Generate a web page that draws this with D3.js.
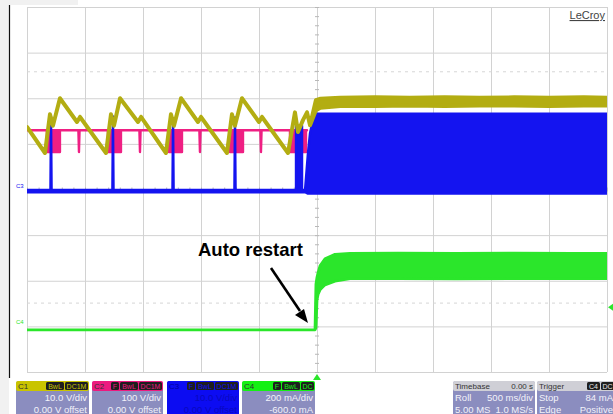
<!DOCTYPE html>
<html><head><meta charset="utf-8">
<script src="https://cdn.jsdelivr.net/npm/d3@7/dist/d3.min.js"></script>
<style>
html,body{margin:0;padding:0;background:#fff;}
svg{display:block;font-family:"Liberation Sans",Arial,Helvetica,sans-serif;}
</style></head><body>
<svg id="c" width="613" height="414"></svg>
<script>
// ---------- DATA (time in ms, trigger at 0) ----------
// C1: 10 V/div, 0 V offset  (values in V; min/max envelope)
const c1Time = [-2500,-2345,-2302,-2276,-2216,-2069,-2043,
  -1819,-1776,-1750,-1698,-1543,-1517,
  -1302,-1259,-1233,-1172,-1026,-1000,
  -776,-733,-707,-647,-500,-474,
  -250,-190,-164,-121,-86,-60,-9,
  30,200,500,800,1100,1400,1700,2000,2300,2500];
const c1Min = [13.7,8.0,16.5,14.0,20.0,14.8,15.9,
  8.0,16.5,14.0,20.0,14.8,15.9,
  8.0,16.5,14.0,20.0,14.8,15.9,
  8.0,16.5,14.0,20.0,14.8,15.9,
  8.0,16.9,12.6,15.2,16.9,14.1,17.4,
  17.9,18.3,18.3,18.4,18.3,18.4,18.4,18.3,18.4,18.4];
const c1Max = [13.7,8.0,16.5,14.0,20.0,14.8,15.9,
  8.0,16.5,14.0,20.0,14.8,15.9,
  8.0,16.5,14.0,20.0,14.8,15.9,
  8.0,16.5,14.0,20.0,14.8,15.9,
  8.0,16.9,12.6,15.2,16.9,14.1,19.6,
  19.9,20.1,20.2,20.1,20.2,20.1,20.2,20.1,20.2,20.1];

// C2: 100 V/div, 0 V offset (values in V)
const c2Time = [-2500,-2328,-2328,-2216,-2216,-2057,-2052,-2047,
  -1802,-1802,-1690,-1690,-1531,-1526,-1521,
  -1276,-1276,-1164,-1164,-1014,-1009,-1004,
  -750,-750,-638,-638,-488,-483,-478,
  -233,-233,-95,-95,-86];
const c2Min = [130,130,82,82,130,130,82,130,
  130,82,82,130,130,82,130,
  130,82,82,130,130,82,130,
  130,82,82,130,130,82,130,
  130,82,82,130,130];
const c2Max = [130,130,130,130,130,130,130,130,
  130,130,130,130,130,130,130,
  130,130,130,130,130,130,130,
  130,130,130,130,130,130,130,
  130,130,130,130,130];

// C3: 10 V/div, 0 V offset (values in V)
const c3Time = [-2500,-2298,-2293,-2288,-1764,-1759,-1754,-1246,-1241,-1236,
  -712,-707,-702,-181,-181,-129,-129,-103,-78,-60,-34,-9,2500];
const c3Min = [-0.6,-0.6,-0.6,-0.6,-0.6,-0.6,-0.6,-0.6,-0.6,-0.6,
  -0.6,-0.6,-0.6,-0.6,-0.6,-0.6,-0.6,-0.6,-0.9,-0.9,-0.9,-0.9,-0.9];
const c3Max = [-0.1,-0.1,16.0,-0.1,-0.1,16.0,-0.1,-0.1,15.6,-0.1,
  -0.1,15.8,-0.1,-0.1,14.0,14.0,-0.1,-0.1,8.0,12.4,15.4,16.6,16.6];

// C4: 200 mA/div, -600 mA offset (values in mA)
const c4Time = [-2500,-17,-9,0,9,26,69,155,284,700,1200,1700,2200,2500];
const c4Min = [-15,-15,-7,116,140,160,182,198,209,209,208,209,209,209];
const c4Max = [-15,-15,185,215,235,265,296,316,320,321,320,321,320,320];

// ---------- SETUP ----------
const svg = d3.select("#c");
const gx0 = 27, gx1 = 607, gy0 = 7, gy1 = 372;
const x = d3.scaleLinear().domain([-2500, 2500]).range([gx0, gx1]);
const y = d3.scaleLinear().domain([-4, 4]).range([gy1, gy0]);

const ch = {
  c1: {vdiv: 10, off: 0, color: "#b3ad12"},
  c2: {vdiv: 100, off: 0, color: "#ef1f83"},
  c3: {vdiv: 10, off: 0, color: "#1414f0"},
  c4: {vdiv: 200, off: -600, color: "#2be62b"}
};
const toDiv = (c, v) => (v + c.off) / c.vdiv;

// background decorations
svg.append("rect").attr("x",0).attr("y",0).attr("width",613).attr("height",414).attr("fill","#fff");
svg.append("rect").attr("x",0).attr("y",0).attr("width",9).attr("height",414).attr("fill","#f1f1f1");
svg.append("rect").attr("x",0).attr("y",0).attr("width",78).attr("height",5).attr("fill","#f1f1f1");
svg.append("line").attr("x1",9.5).attr("x2",9.5).attr("y1",5).attr("y2",378).attr("stroke","#111").attr("stroke-width",1.2);

// grid via axes
const gridX = svg.append("g").attr("transform",`translate(0,${gy1})`)
  .call(d3.axisBottom(x).tickValues(d3.range(-2500, 2501, 500)).tickSize(-(gy1-gy0)).tickFormat(""));
const gridY = svg.append("g").attr("transform",`translate(${gx0},0)`)
  .call(d3.axisLeft(y).tickValues(d3.range(-4, 4.01, 1)).tickSize(-(gx1-gx0)).tickFormat(""));
[gridX, gridY].forEach(g => {
  g.select(".domain").remove();
  g.selectAll("line").attr("stroke","#d2d2d2").attr("stroke-width",1);
});
// faint dotted reference lines
[2.58, -2.49].forEach(d => {
  svg.append("line").attr("x1",gx0).attr("x2",gx1).attr("y1",y(d)).attr("y2",y(d))
    .attr("stroke","#d6d6d6").attr("stroke-dasharray","3,4");
});
// center-line minor ticks
const cv = svg.append("g").attr("transform",`translate(${x(0)+2},0)`)
  .call(d3.axisLeft(y).tickValues(d3.range(-4, 4.01, 0.2)).tickSize(4).tickFormat(""));
const chz = svg.append("g").attr("transform",`translate(0,${y(0)-2})`)
  .call(d3.axisBottom(x).tickValues(d3.range(-2500, 2501, 100)).tickSize(4).tickFormat(""));
[cv, chz].forEach(g => {
  g.select(".domain").remove();
  g.selectAll("line").attr("stroke","#b8b8b8");
});

// clip
svg.append("clipPath").attr("id","clip").append("rect")
  .attr("x",gx0).attr("y",gy0).attr("width",gx1-gx0).attr("height",gy1-gy0);
const plot = svg.append("g").attr("clip-path","url(#clip)");

function drawChannel(c, t, mn, mx, w) {
  const pts = t.map((d, i) => ({t: d, lo: toDiv(c, mn[i]), hi: toDiv(c, mx[i])}));
  const area = d3.area().x(d => x(d.t)).y0(d => y(d.lo)).y1(d => y(d.hi));
  plot.append("path").attr("d", area(pts)).attr("fill", c.color)
    .attr("stroke", c.color).attr("stroke-width", w).attr("stroke-linejoin","round");
}
drawChannel(ch.c2, c2Time, c2Min, c2Max, 2.4);
drawChannel(ch.c3, c3Time, c3Min, c3Max, 2.4);
drawChannel(ch.c1, c1Time, c1Min, c1Max, 4);
drawChannel(ch.c4, c4Time, c4Min, c4Max, 2.8);

// channel ground markers
svg.append("text").attr("x",16).attr("y",y(toDiv(ch.c3,0))-2).attr("font-size",6)
  .attr("fill",ch.c3.color).text("C3");
svg.append("text").attr("x",16).attr("y",y(toDiv(ch.c4,0))-2).attr("font-size",6)
  .attr("fill",ch.c4.color).text("C4");

// trigger level marker (right) and trigger position (bottom)
const trigLevel = 84;
const ty = y(toDiv(ch.c4, trigLevel));
svg.append("path").attr("d",`M608,${ty} L613,${ty-3.5} L613,${ty+3.5} Z`).attr("fill",ch.c4.color);
svg.append("path").attr("d",`M${x(0)},${gy1+2} L${x(0)-4},${gy1+8} L${x(0)+4},${gy1+8} Z`).attr("fill",ch.c4.color);

// LeCroy logo text
svg.append("text").attr("x",605).attr("y",19).attr("text-anchor","end")
  .attr("font-size",11).attr("fill","#444").attr("text-decoration","underline").text("LeCroy");

// Annotation
svg.append("text").attr("x",198).attr("y",256).attr("font-size",18.5).attr("font-weight","bold")
  .attr("fill","#000").text("Auto restart");
svg.append("line").attr("x1",271).attr("y1",268).attr("x2",300).attr("y2",311)
  .attr("stroke","#000").attr("stroke-width",2.6);
svg.append("path").attr("d","M308,323 L295,315 L304,309 Z").attr("fill","#000");

// ---------- bottom info boxes ----------
const bodyColor = "#8b8dbf";
function infoBox(bx, bw, hdrColor, label, labelColor, badges, badgeText, rowsL, rowsR, bColor, txtColor) {
  const g = svg.append("g");
  g.append("rect").attr("x",bx).attr("y",381).attr("width",bw).attr("height",40).attr("rx",3).attr("fill",bColor);
  g.append("rect").attr("x",bx).attr("y",381).attr("width",bw).attr("height",10).attr("rx",2).attr("fill",hdrColor);
  g.append("text").attr("x",bx+2).attr("y",389).attr("font-size",8).attr("fill",labelColor).text(label);
  let bxr = bx + bw - 1;
  badges.slice().reverse().forEach(b => {
    const w = b.length * 5 + 3;
    bxr -= w;
    g.append("rect").attr("x",bxr).attr("y",382).attr("width",w).attr("height",8).attr("rx",1.5).attr("fill","#1e1e1e");
    g.append("text").attr("x",bxr+w/2).attr("y",388.8).attr("text-anchor","middle").attr("font-size",7)
      .attr("fill",badgeText).text(b);
    bxr -= 1;
  });
  rowsR.forEach((t, i) => {
    g.append("text").attr("x",bx+bw-2).attr("y",401+i*11.5).attr("text-anchor","end")
      .attr("font-size",9.5).attr("fill",txtColor).text(t);
  });
  rowsL.forEach((t, i) => {
    g.append("text").attr("x",bx+2).attr("y",401+i*11.5)
      .attr("font-size",9.5).attr("fill",txtColor).text(t);
  });
}
infoBox(16, 73, "#c9c400", "C1", "#333", ["BwL","DC1M"], "#c9c400", [], ["10.0 V/div","0.00 V offset"], bodyColor, "#f2f2fa");
infoBox(92, 71, "#ec1a7f", "C2", "#333", ["F","BwL","DC1M"], "#ec1a7f", [], ["100 V/div","0.00 V offset"], bodyColor, "#f2f2fa");
infoBox(167, 72, "#0c0cf2", "C3", "#0000a0", ["F","BwL","DC1M"], "#0c0cf2", [], ["10.0 V/div","0.00 V offset"], "#0c0cf2", "#0808c0");
infoBox(242, 73, "#14f014", "C4", "#333", ["F","BwL","DC"], "#14f014", [], ["200 mA/div","-600.0 mA"], bodyColor, "#f2f2fa");
infoBox(453, 82, "#cfcfd6", "Timebase", "#333", [], "#fff", ["Roll","5.00 MS"], ["500 ms/div","1.0 MS/s"], bodyColor, "#f2f2fa");
// Timebase header right value
svg.append("text").attr("x",533).attr("y",389).attr("text-anchor","end").attr("font-size",8).attr("fill","#333").text("0.00 s");
infoBox(537, 78, "#cfcfd6", "Trigger", "#333", ["C4","DC"], "#e8e8e8", ["Stop","Edge"], ["84 mA","Positive"], bodyColor, "#f2f2fa");
</script>
</body></html>
